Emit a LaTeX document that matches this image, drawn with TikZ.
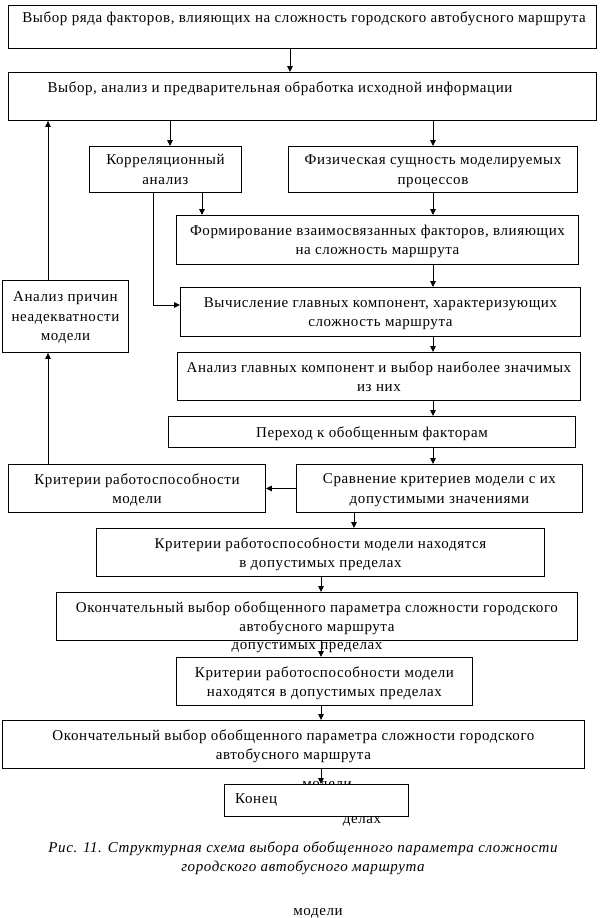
\documentclass[tikz,border=0pt]{standalone}
\usepackage{fontspec}
\setmainfont{Liberation Serif}[LetterSpace=4]
\usetikzlibrary{arrows.meta}
\newcommand\fs{\fontsize{15}{19.5}\selectfont}
\begin{document}
\begin{tikzpicture}[x=1pt,y=-1pt,
  box/.style={draw, line width=0.9pt, fill=white, inner sep=0pt, align=center, font=\fs, anchor=north west, text depth=0pt},
  txt/.style={inner sep=0pt, font=\fs},
  stray/.style={inner sep=0pt, font=\fs},
  arr/.style={draw, line width=0.9pt, -{Triangle[length=6pt,width=5.5pt]}}]
\useasboundingbox[fill=white] (0,0) rectangle (602,918);
% coordinates for connector columns
\coordinate (cx290) at (290,0);
\coordinate (cx170) at (170,0);
\coordinate (cx433) at (433,0);
\coordinate (cx202) at (202,0);
\coordinate (cx153) at (153,0);
\coordinate (cx48) at (48,0);
\coordinate (cx354) at (354,0);
\coordinate (cx321) at (321,0);
\coordinate (cy305) at (0,305);
% stray texts
\node[stray] (s1) at (307,648) {допустимых пределах};
\node[stray] (s2) at (327,786) {модели};
\node[stray] (s3) at (362,821) {делах};
\node[stray] (s4) at (318,913) {модели};
% boxes
\node[box, minimum width=588pt, minimum height=43pt] (b1) at (8,5) {};
\node[txt] (t1) at (304,19) {Выбор ряда факторов, влияющих на сложность городского автобусного маршрута};
\node[box, minimum width=588pt, minimum height=48pt] (b2) at (8,72) {};
\node[txt] (t2) at (280,89) {Выбор, анализ и предварительная обработка исходной информации};
\node[box, minimum width=152pt, minimum height=46pt] (korr) at (89,146) {Корреляционный\\анализ};
\node[box, minimum width=289pt, minimum height=46pt] (fiz) at (288,146) {Физическая сущность моделируемых\\процессов};
\node[box, minimum width=402pt, minimum height=49pt] (form) at (176,215) {Формирование взаимосвязанных факторов, влияющих\\на сложность маршрута};
\node[box, minimum width=400pt, minimum height=49pt] (vych) at (180,287) {Вычисление главных компонент, характеризующих\\сложность маршрута};
\node[box, minimum width=126pt, minimum height=72pt] (prich) at (2,280) {Анализ причин\\неадекватности\\модели};
\node[box, minimum width=403pt, minimum height=48pt] (angl) at (177,352) {Анализ главных компонент и выбор наиболее значимых\\из них};
\node[box, minimum width=407pt, minimum height=31pt] (per) at (168,416) {Переход к обобщенным факторам};
\node[box, minimum width=286pt, minimum height=48pt] (sravn) at (296,464) {Сравнение критериев модели с их\\допустимыми значениями};
\node[box, minimum width=257pt, minimum height=48pt] (krit) at (8,464) {Критерии работоспособности\\модели};
\node[box, minimum width=448pt, minimum height=48pt] (kritv) at (96,528) {Критерии работоспособности модели находятся\\в допустимых пределах};
\node[box, minimum width=521pt, minimum height=48pt] (ok1) at (56,592) {Окончательный выбор обобщенного параметра сложности городского\\автобусного маршрута};
\node[box, minimum width=296pt, minimum height=48pt] (krit2) at (176,657) {Критерии работоспособности модели\\находятся в допустимых пределах};
\node[box, minimum width=582pt, minimum height=48pt] (ok2) at (2,720) {Окончательный выбор обобщенного параметра сложности городского\\автобусного маршрута};
\node[box, minimum width=184pt, minimum height=32pt] (konec) at (224,784) {};
\node[txt, anchor=west] (tk) at (235,800) {Конец};
% caption
\node[txt, font=\fs\itshape, align=center] (cap) at (303,858) {Рис. 11. Структурная схема выбора обобщенного параметра сложности\\городского автобусного маршрута};
% connectors
\draw[arr] (b1.south -| cx290) -- (b2.north -| cx290);
\draw[arr] (b2.south -| cx170) -- (korr.north -| cx170);
\draw[arr] (b2.south -| cx433) -- (fiz.north -| cx433);
\draw[arr] (korr.south -| cx202) -- (form.north -| cx202);
\draw[arr] (fiz.south -| cx433) -- (form.north -| cx433);
\draw[arr] (korr.south -| cx153) |- (vych.west |- cy305);
\draw[arr] (form.south -| cx433) -- (vych.north -| cx433);
\draw[arr] (vych.south -| cx433) -- (angl.north -| cx433);
\draw[arr] (angl.south -| cx433) -- (per.north -| cx433);
\draw[arr] (per.south -| cx433) -- (sravn.north -| cx433);
\draw[arr] (sravn.west) -- (krit.east);
\draw[arr] (krit.north -| cx48) -- (prich.south -| cx48);
\draw[arr] (prich.north -| cx48) -- (b2.south -| cx48);
\draw[arr] (sravn.south -| cx354) -- (kritv.north -| cx354);
\draw[arr] (kritv.south -| cx321) -- (ok1.north -| cx321);
\draw[arr] (ok1.south -| cx321) -- (krit2.north -| cx321);
\draw[arr] (krit2.south -| cx321) -- (ok2.north -| cx321);
\draw[arr] (ok2.south -| cx321) -- (konec.north -| cx321);
\end{tikzpicture}
\end{document}
